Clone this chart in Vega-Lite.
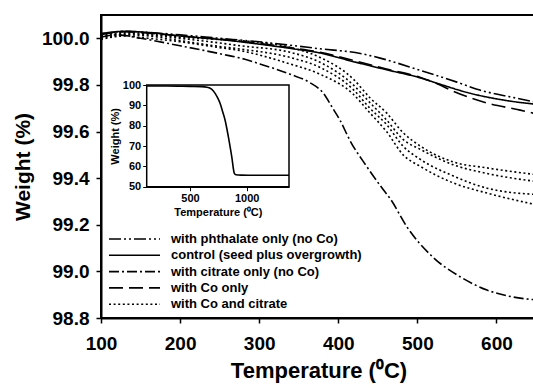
{
  "$schema": "https://vega.github.io/schema/vega-lite/v6.json",
  "width": 435,
  "height": 303,
  "autosize": {"type": "none"},
  "padding": {"left": 101, "top": 15, "right": 0, "bottom": 71},
  "background": "white",
  "config": {
    "view": {"stroke": "black", "strokeWidth": 2},
    "font": "Liberation Sans",
    "axis": {"grid": false, "domainColor": "black", "tickColor": "black", "labelColor": "black", "titleColor": "black"}
  },
  "datasets": {
    "main": [
      {"type": "with phthalate only (no Co)", "run": "P", "T": 100, "W": 100.015},
      {"type": "with phthalate only (no Co)", "run": "P", "T": 130, "W": 100.03},
      {"type": "with phthalate only (no Co)", "run": "P", "T": 160, "W": 100.025},
      {"type": "with phthalate only (no Co)", "run": "P", "T": 200, "W": 100.015},
      {"type": "with phthalate only (no Co)", "run": "P", "T": 250, "W": 100.0},
      {"type": "with phthalate only (no Co)", "run": "P", "T": 300, "W": 99.985},
      {"type": "with phthalate only (no Co)", "run": "P", "T": 340, "W": 99.97},
      {"type": "with phthalate only (no Co)", "run": "P", "T": 377, "W": 99.955},
      {"type": "with phthalate only (no Co)", "run": "P", "T": 428, "W": 99.935},
      {"type": "with phthalate only (no Co)", "run": "P", "T": 453, "W": 99.915},
      {"type": "with phthalate only (no Co)", "run": "P", "T": 504, "W": 99.862},
      {"type": "with phthalate only (no Co)", "run": "P", "T": 550, "W": 99.812},
      {"type": "with phthalate only (no Co)", "run": "P", "T": 579, "W": 99.778},
      {"type": "with phthalate only (no Co)", "run": "P", "T": 620, "W": 99.747},
      {"type": "with phthalate only (no Co)", "run": "P", "T": 650, "W": 99.726},

      {"type": "control (seed plus overgrowth)", "run": "C", "T": 100, "W": 100.02},
      {"type": "control (seed plus overgrowth)", "run": "C", "T": 130, "W": 100.03},
      {"type": "control (seed plus overgrowth)", "run": "C", "T": 160, "W": 100.025},
      {"type": "control (seed plus overgrowth)", "run": "C", "T": 200, "W": 100.01},
      {"type": "control (seed plus overgrowth)", "run": "C", "T": 250, "W": 99.995},
      {"type": "control (seed plus overgrowth)", "run": "C", "T": 300, "W": 99.975},
      {"type": "control (seed plus overgrowth)", "run": "C", "T": 343, "W": 99.955},
      {"type": "control (seed plus overgrowth)", "run": "C", "T": 377, "W": 99.937},
      {"type": "control (seed plus overgrowth)", "run": "C", "T": 419, "W": 99.9},
      {"type": "control (seed plus overgrowth)", "run": "C", "T": 461, "W": 99.865},
      {"type": "control (seed plus overgrowth)", "run": "C", "T": 504, "W": 99.83},
      {"type": "control (seed plus overgrowth)", "run": "C", "T": 525, "W": 99.807},
      {"type": "control (seed plus overgrowth)", "run": "C", "T": 567, "W": 99.764},
      {"type": "control (seed plus overgrowth)", "run": "C", "T": 609, "W": 99.735},
      {"type": "control (seed plus overgrowth)", "run": "C", "T": 650, "W": 99.717},

      {"type": "with citrate only (no Co)", "run": "Ci", "T": 100, "W": 100.005},
      {"type": "with citrate only (no Co)", "run": "Ci", "T": 120, "W": 100.015},
      {"type": "with citrate only (no Co)", "run": "Ci", "T": 150, "W": 100.0},
      {"type": "with citrate only (no Co)", "run": "Ci", "T": 200, "W": 99.968},
      {"type": "with citrate only (no Co)", "run": "Ci", "T": 250, "W": 99.934},
      {"type": "with citrate only (no Co)", "run": "Ci", "T": 282, "W": 99.91},
      {"type": "with citrate only (no Co)", "run": "Ci", "T": 301, "W": 99.89},
      {"type": "with citrate only (no Co)", "run": "Ci", "T": 339, "W": 99.846},
      {"type": "with citrate only (no Co)", "run": "Ci", "T": 364, "W": 99.81},
      {"type": "with citrate only (no Co)", "run": "Ci", "T": 381, "W": 99.765},
      {"type": "with citrate only (no Co)", "run": "Ci", "T": 393, "W": 99.7},
      {"type": "with citrate only (no Co)", "run": "Ci", "T": 402, "W": 99.65},
      {"type": "with citrate only (no Co)", "run": "Ci", "T": 415, "W": 99.56},
      {"type": "with citrate only (no Co)", "run": "Ci", "T": 436, "W": 99.45},
      {"type": "with citrate only (no Co)", "run": "Ci", "T": 457, "W": 99.35},
      {"type": "with citrate only (no Co)", "run": "Ci", "T": 466, "W": 99.31},
      {"type": "with citrate only (no Co)", "run": "Ci", "T": 487, "W": 99.19},
      {"type": "with citrate only (no Co)", "run": "Ci", "T": 520, "W": 99.06},
      {"type": "with citrate only (no Co)", "run": "Ci", "T": 554, "W": 98.977},
      {"type": "with citrate only (no Co)", "run": "Ci", "T": 588, "W": 98.92},
      {"type": "with citrate only (no Co)", "run": "Ci", "T": 621, "W": 98.89},
      {"type": "with citrate only (no Co)", "run": "Ci", "T": 650, "W": 98.878},

      {"type": "with Co only", "run": "Co", "T": 100, "W": 100.02},
      {"type": "with Co only", "run": "Co", "T": 130, "W": 100.028},
      {"type": "with Co only", "run": "Co", "T": 160, "W": 100.022},
      {"type": "with Co only", "run": "Co", "T": 200, "W": 100.01},
      {"type": "with Co only", "run": "Co", "T": 250, "W": 99.997},
      {"type": "with Co only", "run": "Co", "T": 300, "W": 99.978},
      {"type": "with Co only", "run": "Co", "T": 343, "W": 99.958},
      {"type": "with Co only", "run": "Co", "T": 377, "W": 99.94},
      {"type": "with Co only", "run": "Co", "T": 419, "W": 99.905},
      {"type": "with Co only", "run": "Co", "T": 461, "W": 99.868},
      {"type": "with Co only", "run": "Co", "T": 504, "W": 99.832},
      {"type": "with Co only", "run": "Co", "T": 525, "W": 99.805},
      {"type": "with Co only", "run": "Co", "T": 546, "W": 99.772},
      {"type": "with Co only", "run": "Co", "T": 588, "W": 99.722},
      {"type": "with Co only", "run": "Co", "T": 630, "W": 99.692},
      {"type": "with Co only", "run": "Co", "T": 650, "W": 99.676},

      {"type": "with Co and citrate", "run": "D1", "T": 100, "W": 100.01},
      {"type": "with Co and citrate", "run": "D1", "T": 130, "W": 100.025},
      {"type": "with Co and citrate", "run": "D1", "T": 160, "W": 100.02},
      {"type": "with Co and citrate", "run": "D1", "T": 200, "W": 100.005},
      {"type": "with Co and citrate", "run": "D1", "T": 250, "W": 99.995},
      {"type": "with Co and citrate", "run": "D1", "T": 276, "W": 99.99},
      {"type": "with Co and citrate", "run": "D1", "T": 339, "W": 99.961},
      {"type": "with Co and citrate", "run": "D1", "T": 377, "W": 99.918},
      {"type": "with Co and citrate", "run": "D1", "T": 419, "W": 99.825},
      {"type": "with Co and citrate", "run": "D1", "T": 440, "W": 99.745},
      {"type": "with Co and citrate", "run": "D1", "T": 461, "W": 99.68},
      {"type": "with Co and citrate", "run": "D1", "T": 482, "W": 99.595},
      {"type": "with Co and citrate", "run": "D1", "T": 504, "W": 99.537},
      {"type": "with Co and citrate", "run": "D1", "T": 545, "W": 99.47},
      {"type": "with Co and citrate", "run": "D1", "T": 588, "W": 99.444},
      {"type": "with Co and citrate", "run": "D1", "T": 650, "W": 99.415},

      {"type": "with Co and citrate", "run": "D2", "T": 100, "W": 100.005},
      {"type": "with Co and citrate", "run": "D2", "T": 130, "W": 100.02},
      {"type": "with Co and citrate", "run": "D2", "T": 160, "W": 100.015},
      {"type": "with Co and citrate", "run": "D2", "T": 200, "W": 100.0},
      {"type": "with Co and citrate", "run": "D2", "T": 250, "W": 99.98},
      {"type": "with Co and citrate", "run": "D2", "T": 276, "W": 99.968},
      {"type": "with Co and citrate", "run": "D2", "T": 339, "W": 99.94},
      {"type": "with Co and citrate", "run": "D2", "T": 377, "W": 99.897},
      {"type": "with Co and citrate", "run": "D2", "T": 419, "W": 99.8},
      {"type": "with Co and citrate", "run": "D2", "T": 440, "W": 99.724},
      {"type": "with Co and citrate", "run": "D2", "T": 461, "W": 99.65},
      {"type": "with Co and citrate", "run": "D2", "T": 482, "W": 99.566},
      {"type": "with Co and citrate", "run": "D2", "T": 504, "W": 99.523},
      {"type": "with Co and citrate", "run": "D2", "T": 545, "W": 99.458},
      {"type": "with Co and citrate", "run": "D2", "T": 588, "W": 99.42},
      {"type": "with Co and citrate", "run": "D2", "T": 650, "W": 99.386},

      {"type": "with Co and citrate", "run": "D3", "T": 100, "W": 100.0},
      {"type": "with Co and citrate", "run": "D3", "T": 130, "W": 100.015},
      {"type": "with Co and citrate", "run": "D3", "T": 160, "W": 100.01},
      {"type": "with Co and citrate", "run": "D3", "T": 200, "W": 99.99},
      {"type": "with Co and citrate", "run": "D3", "T": 250, "W": 99.965},
      {"type": "with Co and citrate", "run": "D3", "T": 276, "W": 99.954},
      {"type": "with Co and citrate", "run": "D3", "T": 339, "W": 99.918},
      {"type": "with Co and citrate", "run": "D3", "T": 377, "W": 99.875},
      {"type": "with Co and citrate", "run": "D3", "T": 419, "W": 99.78},
      {"type": "with Co and citrate", "run": "D3", "T": 440, "W": 99.7},
      {"type": "with Co and citrate", "run": "D3", "T": 461, "W": 99.63},
      {"type": "with Co and citrate", "run": "D3", "T": 482, "W": 99.537},
      {"type": "with Co and citrate", "run": "D3", "T": 504, "W": 99.48},
      {"type": "with Co and citrate", "run": "D3", "T": 545, "W": 99.41},
      {"type": "with Co and citrate", "run": "D3", "T": 588, "W": 99.357},
      {"type": "with Co and citrate", "run": "D3", "T": 650, "W": 99.33},

      {"type": "with Co and citrate", "run": "D4", "T": 100, "W": 99.995},
      {"type": "with Co and citrate", "run": "D4", "T": 130, "W": 100.01},
      {"type": "with Co and citrate", "run": "D4", "T": 160, "W": 100.0},
      {"type": "with Co and citrate", "run": "D4", "T": 200, "W": 99.985},
      {"type": "with Co and citrate", "run": "D4", "T": 250, "W": 99.96},
      {"type": "with Co and citrate", "run": "D4", "T": 276, "W": 99.947},
      {"type": "with Co and citrate", "run": "D4", "T": 339, "W": 99.89},
      {"type": "with Co and citrate", "run": "D4", "T": 377, "W": 99.846},
      {"type": "with Co and citrate", "run": "D4", "T": 419, "W": 99.76},
      {"type": "with Co and citrate", "run": "D4", "T": 440, "W": 99.68},
      {"type": "with Co and citrate", "run": "D4", "T": 461, "W": 99.6},
      {"type": "with Co and citrate", "run": "D4", "T": 482, "W": 99.5},
      {"type": "with Co and citrate", "run": "D4", "T": 504, "W": 99.45},
      {"type": "with Co and citrate", "run": "D4", "T": 545, "W": 99.38},
      {"type": "with Co and citrate", "run": "D4", "T": 588, "W": 99.336},
      {"type": "with Co and citrate", "run": "D4", "T": 650, "W": 99.286}
    ],
    "inset": [
      {"T": 118, "W": 99.5},
      {"T": 300, "W": 99.5},
      {"T": 500, "W": 99.3},
      {"T": 600, "W": 99.2},
      {"T": 650, "W": 98.9},
      {"T": 690, "W": 98.0},
      {"T": 720, "W": 96.0},
      {"T": 745, "W": 93.5},
      {"T": 765, "W": 91.0},
      {"T": 790, "W": 86.5},
      {"T": 809, "W": 82.8},
      {"T": 838, "W": 74.6},
      {"T": 868, "W": 64.8},
      {"T": 891, "W": 56.6},
      {"T": 905, "W": 55.9},
      {"T": 950, "W": 55.7},
      {"T": 1100, "W": 55.6},
      {"T": 1373, "W": 55.6}
    ],
    "frame": [{"T": 118, "T2": 1373, "W": 50, "W2": 100}]
  },
  "layer": [
    {
      "data": {"name": "main"},
      "mark": {"type": "line", "stroke": "black", "strokeWidth": 1.6, "interpolate": "monotone", "clip": true},
      "encoding": {
        "x": {
          "field": "T", "type": "quantitative",
          "scale": {"domain": [100, 650], "nice": false, "zero": false},
          "axis": {"orient": "bottom", "values": [100, 200, 300, 400, 500, 600], "title": "Temperature (⁰C)",
                   "titleFontSize": 22, "titleFontWeight": "bold", "titlePadding": 7,
                   "labelFontSize": 19, "labelFontWeight": "bold", "labelPadding": 11, "labelFlush": false,
                   "tickSize": 5, "tickWidth": 1.5, "domainWidth": 2}
        },
        "y": {
          "field": "W", "type": "quantitative",
          "scale": {"domain": [98.8, 100.1], "nice": false, "zero": false},
          "axis": {"orient": "left", "values": [98.8, 99.0, 99.2, 99.4, 99.6, 99.8, 100.0], "format": ".1f", "title": "Weight (%)",
                   "titleFontSize": 21, "titleFontWeight": "bold", "titlePadding": 8,
                   "labelFontSize": 19, "labelFontWeight": "bold", "labelPadding": 7, "labelFlush": false, "labelOverlap": false,
                   "tickSize": 5, "tickWidth": 1.5, "domainWidth": 2}
        },
        "strokeDash": {
          "field": "type", "type": "nominal",
          "scale": {
            "domain": ["with phthalate only (no Co)", "control (seed plus overgrowth)", "with citrate only (no Co)", "with Co only", "with Co and citrate"],
            "range": [[12, 3, 2, 3, 2, 3], [1, 0], [10, 3, 2, 3], [14, 6], [2, 2.6]]
          },
          "legend": {
            "orient": "none", "legendX": 7, "legendY": 217, "title": null, "padding": 0,
            "symbolType": "stroke", "symbolSize": 2601, "symbolStrokeWidth": 1.6, "symbolStrokeColor": "black",
            "clipHeight": 14, "rowPadding": 2.3, "labelFontSize": 13, "labelFontWeight": "bold", "labelColor": "black",
            "labelOffset": 10, "labelLimit": 300
          }
        },
        "detail": {"field": "run", "type": "nominal"}
      }
    },
    {
      "layer": [
        {
          "data": {"name": "frame"},
          "mark": {"type": "rect", "fill": "white", "stroke": "black", "strokeWidth": 1.5},
          "encoding": {
            "x": {
              "field": "T", "type": "quantitative",
              "scale": {"domain": [118, 1373], "range": [45.7, 188], "nice": false, "zero": false},
              "axis": {"orient": "bottom", "offset": -131.3, "values": [500, 1000], "format": "d", "title": "Temperature (⁰C)",
                       "titleFontSize": 11, "titleFontWeight": "bold", "titlePadding": 3,
                       "labelFontSize": 11, "labelFontWeight": "bold", "labelPadding": 2, "labelFlush": false,
                       "tickSize": 4, "tickWidth": 1, "domainWidth": 1.5}
            },
            "x2": {"field": "T2"},
            "y": {
              "field": "W", "type": "quantitative",
              "scale": {"domain": [50, 100], "range": [171.7, 70], "nice": false, "zero": false},
              "axis": {"orient": "left", "offset": -45.7, "values": [50, 60, 70, 80, 90, 100], "format": "d", "title": "Weight (%)",
                       "titleFontSize": 11, "titleFontWeight": "bold", "titlePadding": 2,
                       "labelFontSize": 11, "labelFontWeight": "bold", "labelPadding": 2, "labelFlush": false, "labelOverlap": false,
                       "tickSize": 4, "tickWidth": 1, "domainWidth": 1.5}
            },
            "y2": {"field": "W2"}
          }
        },
        {
          "data": {"name": "inset"},
          "mark": {"type": "line", "stroke": "black", "strokeWidth": 1.6, "interpolate": "monotone"},
          "encoding": {
            "x": {
              "field": "T", "type": "quantitative",
              "scale": {"domain": [118, 1373], "range": [45.7, 188], "nice": false, "zero": false},
              "axis": {"orient": "bottom", "offset": -131.3, "values": [500, 1000], "format": "d", "title": "Temperature (⁰C)",
                       "titleFontSize": 11, "titleFontWeight": "bold", "titlePadding": 3,
                       "labelFontSize": 11, "labelFontWeight": "bold", "labelPadding": 2, "labelFlush": false,
                       "tickSize": 4, "tickWidth": 1, "domainWidth": 1.5}
            },
            "y": {
              "field": "W", "type": "quantitative",
              "scale": {"domain": [50, 100], "range": [171.7, 70], "nice": false, "zero": false},
              "axis": {"orient": "left", "offset": -45.7, "values": [50, 60, 70, 80, 90, 100], "format": "d", "title": "Weight (%)",
                       "titleFontSize": 11, "titleFontWeight": "bold", "titlePadding": 2,
                       "labelFontSize": 11, "labelFontWeight": "bold", "labelPadding": 2, "labelFlush": false, "labelOverlap": false,
                       "tickSize": 4, "tickWidth": 1, "domainWidth": 1.5}
            }
          }
        }
      ]
    }
  ],
  "resolve": {"scale": {"x": "independent", "y": "independent"}}
}
